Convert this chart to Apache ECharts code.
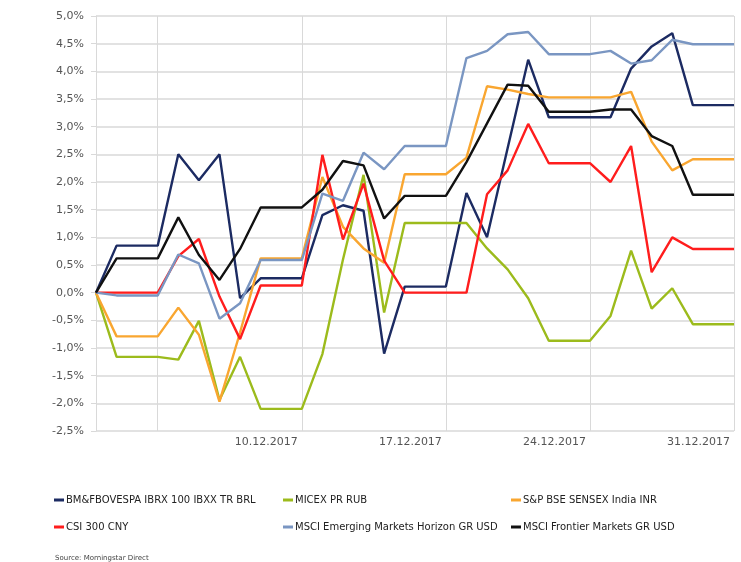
<!DOCTYPE html>
<html>
<head>
<meta charset="utf-8">
<script src="https://cdn.jsdelivr.net/npm/echarts@6/dist/echarts.min.js"></script>
<style>
html,body{margin:0;padding:0;background:#fff;}
#chart{width:741px;height:562px;}
</style>
</head>
<body>
<div id="chart"></div>
<script>
var categories = ['30.11.2017','01.12.2017','02.12.2017','03.12.2017','04.12.2017','05.12.2017','06.12.2017','07.12.2017',
  '08.12.2017','09.12.2017','10.12.2017','11.12.2017','12.12.2017','13.12.2017','14.12.2017','15.12.2017',
  '16.12.2017','17.12.2017','18.12.2017','19.12.2017','20.12.2017','21.12.2017','22.12.2017','23.12.2017',
  '24.12.2017','25.12.2017','26.12.2017','27.12.2017','28.12.2017','29.12.2017','30.12.2017','31.12.2017'];
var labeledDates = ['10.12.2017','17.12.2017','24.12.2017','31.12.2017'];
var gridDates = ['03.12.2017','10.12.2017','17.12.2017','24.12.2017','31.12.2017'];

var seriesNames = ['BM&FBOVESPA IBRX 100 IBXX TR BRL','MICEX PR RUB','S&P BSE SENSEX India INR',
  'CSI 300 CNY','MSCI Emerging Markets Horizon GR USD','MSCI Frontier Markets GR USD'];
var seriesColors = ['#1c2b62','#9cbb1c','#f9a630','#ff1d1d','#7a96c2','#111111'];

var bovespa = [0,0.85,0.85,0.85,2.50,2.03,2.50,-0.10,0.26,0.26,0.26,1.40,1.58,1.48,-1.10,0.11,0.11,0.11,1.80,1.00,2.61,4.21,3.17,3.17,3.17,3.17,4.05,4.45,4.69,3.39,3.39,3.39];
var micex = [0,-1.16,-1.16,-1.16,-1.21,-0.51,-1.94,-1.16,-2.10,-2.10,-2.10,-1.11,0.60,2.13,-0.36,1.26,1.26,1.26,1.26,0.80,0.42,-0.10,-0.87,-0.87,-0.87,-0.42,0.76,-0.29,0.08,-0.57,-0.57,-0.57];
var sensex = [0,-0.79,-0.79,-0.79,-0.27,-0.76,-1.97,-0.72,0.62,0.62,0.62,2.09,1.19,0.80,0.54,2.14,2.14,2.14,2.44,3.73,3.67,3.59,3.53,3.53,3.53,3.53,3.63,2.73,2.21,2.41,2.41,2.41];
var csi300 = [0,0,0,0,0.66,0.97,-0.07,-0.84,0.13,0.13,0.13,2.49,0.96,1.97,0.58,0,0,0,0,1.78,2.21,3.05,2.34,2.34,2.34,2.00,2.65,0.37,1.00,0.79,0.79,0.79];
var msciEmh = [0,-0.05,-0.05,-0.05,0.69,0.53,-0.47,-0.19,0.59,0.59,0.59,1.79,1.66,2.53,2.23,2.65,2.65,2.65,4.24,4.37,4.67,4.71,4.31,4.31,4.31,4.37,4.14,4.20,4.57,4.49,4.49,4.49];
var msciFrontier = [0,0.62,0.62,0.62,1.36,0.68,0.23,0.79,1.54,1.54,1.54,1.86,2.38,2.30,1.34,1.75,1.75,1.75,2.36,3.06,3.76,3.74,3.27,3.27,3.27,3.31,3.31,2.83,2.65,1.77,1.77,1.77];

var allData = [bovespa, micex, sensex, csi300, msciEmh, msciFrontier];

var FONT = 'DejaVu Sans';
var gridColor = '#d9d9d9';
var labelColor = '#555555';

var series = seriesNames.map(function (n, i) {
  return {
    name: n, type: 'line', data: allData[i], showSymbol: false, symbol: 'none',
    lineStyle: {width: 2.4, color: seriesColors[i]}, itemStyle: {color: seriesColors[i]},
    animation: false
  };
});

var legendPos = [[54,502],[283,502],[511,502],[54,529],[283,529],[511,529]];
var legends = seriesNames.map(function (n, i) {
  return {
    data: [n], left: legendPos[i][0], top: legendPos[i][1] - 7, padding: 0,
    icon: 'rect', itemWidth: 10, itemHeight: 3, selectedMode: false,
    textStyle: {fontFamily: FONT, fontSize: 10, color: '#222222', padding: [0,0,0,-3]}
  };
});

var chart = echarts.init(document.getElementById('chart'), null, {renderer: 'canvas'});
chart.setOption({
  backgroundColor: '#ffffff',
  animation: false,
  grid: {left: 96, right: 7, top: 16, bottom: 131, containLabel: false},
  legend: legends,
  xAxis: {
    type: 'category', data: categories, boundaryGap: false,
    axisLine: {show: true, lineStyle: {color: gridColor, width: 1}},
    axisTick: {show: true, length: 5, lineStyle: {color: gridColor},
      interval: function (i, v) { return i === 0 || gridDates.indexOf(v) >= 0; }},
    splitLine: {show: true, lineStyle: {color: gridColor, width: 1},
      interval: function (i, v) { return gridDates.indexOf(v) >= 0; }},
    axisLabel: {
      interval: function (i, v) { return labeledDates.indexOf(v) >= 0; },
      align: 'right', padding: [0,4,0,0], margin: 6,
      fontFamily: FONT, fontSize: 11, color: labelColor
    }
  },
  yAxis: {
    type: 'value', min: -2.5, max: 5, interval: 0.5,
    axisLine: {show: true, lineStyle: {color: gridColor, width: 1}},
    axisTick: {show: true, length: 5, lineStyle: {color: gridColor}},
    splitLine: {show: true, lineStyle: {color: gridColor, width: 1.5}},
    axisLabel: {
      margin: 12, fontFamily: FONT, fontSize: 11, color: labelColor,
      formatter: function (v) { return v.toFixed(1).replace('.', ',') + '%'; }
    }
  },
  graphic: [{
    type: 'text', left: 55, top: 555,
    style: {text: 'Source: Morningstar Direct', fontFamily: FONT, fontSize: 7, fill: '#444444'}
  }],
  series: series
});
</script>
</body>
</html>
